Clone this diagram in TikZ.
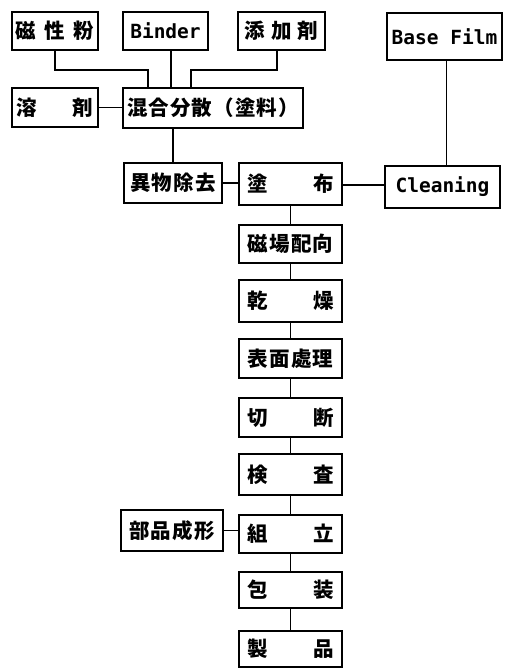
\documentclass[tikz,border=0pt]{standalone}
\usepackage{fontspec}
\newfontfamily\jp[LetterSpace=5]{Noto Sans CJK JP}
\newfontfamily\jps{Noto Sans CJK JP}
\newfontfamily\lat{DejaVu Sans Mono}
\begin{document}
\begin{tikzpicture}[x=1pt,y=-1pt,
  box/.style={draw,line width=1.3pt,inner sep=0pt,font=\fontsize{20.5pt}{20.5pt}\selectfont\bfseries},
  latin/.style={box,font=\fontsize{19.5pt}{19.5pt}\selectfont\lat\bfseries},
  col/.style={box,minimum width=103pt},
  conn/.style={line width=1.3pt}]
\useasboundingbox (0,0) rectangle (515,669);
% top row
\node[box,minimum width=86pt,minimum height=38pt] (jisei) at (55,31) {\makebox[78pt]{\jps 磁\hfill 性\hfill 粉}};
\node[latin,minimum width=85pt,minimum height=38pt] (binder) at (165.5,31) {Binder};
\node[box,minimum width=87pt,minimum height=38pt] (tenka) at (281.5,31) {\makebox[74pt]{\jps 添\hfill 加\hfill 剤}};
\node[latin,minimum width=115pt,minimum height=47pt] (base) at (444.5,36.5) {Base Film};
% second row
\node[box,minimum width=86pt,minimum height=39pt] (yozai) at (55,107.5) {\makebox[77pt]{\jps 溶\hfill 剤}};
\node[box,minimum width=180pt,minimum height=40pt] (kongou) at (213,108) {\jp 混合分散（塗料）};
% third row
\node[box,minimum width=98pt,minimum height=40pt] (ibutsu) at (173,183) {\jp 異物除去};
\node[col,minimum height=42pt] (tofu) at (290.5,184) {\makebox[86pt]{\jps 塗\hfill 布}};
\node[latin,minimum width=115pt,minimum height=42pt] (cleaning) at (442.5,187) {Cleaning};
% column
\node[col,minimum height=38pt] (jiba) at (290.5,244) {\jp 磁場配向};
\node[col,minimum height=42pt] (kanso) at (290.5,301) {\makebox[86pt]{\jps 乾\hfill 燥}};
\node[col,minimum height=39pt] (hyomen) at (290.5,358.5) {\jp 表面處理};
\node[col,minimum height=39pt] (setsudan) at (290.5,417.5) {\makebox[86pt]{\jps 切\hfill 断}};
\node[col,minimum height=41pt] (kensa) at (290.5,474.5) {\makebox[86pt]{\jps 検\hfill 査}};
\node[col,minimum height=38pt] (kumitate) at (290.5,534) {\makebox[86pt]{\jps 組\hfill 立}};
\node[box,minimum width=102pt,minimum height=41pt] (buhin) at (172,530.5) {\jp 部品成形};
\node[col,minimum height=36pt] (housou) at (290.5,590) {\makebox[86pt]{\jps 包\hfill 装}};
\node[col,minimum height=36pt] (seihin) at (290.5,649) {\makebox[86pt]{\jps 製\hfill 品}};
% connectors
\coordinate (j1) at (148,70);
\coordinate (t1) at (191,70);
\draw[conn] (jisei.south) |- (j1) -- (j1 |- kongou.north);
\draw[conn] ([xshift=5.5pt]binder.south) -- ([xshift=5.5pt]binder.south |- kongou.north);
\draw[conn] ([xshift=-4.5pt]tenka.south) |- (t1) -- (t1 |- kongou.north);
\draw[conn] (yozai.east) -- (yozai.east -| kongou.west);
\draw[conn] (ibutsu.north |- kongou.south) -- (ibutsu.north);
\draw[conn] (ibutsu.east) -- (ibutsu.east -| tofu.west);
\draw[conn] ([yshift=-1pt]tofu.east) -- ([yshift=-1pt]tofu.east -| cleaning.west);
\draw[conn] ([xshift=2pt]base.south) -- ([xshift=2pt]base.south |- cleaning.north);
\draw[conn] (tofu.south) -- (jiba.north);
\draw[conn] (jiba.south) -- (kanso.north);
\draw[conn] (kanso.south) -- (hyomen.north);
\draw[conn] (hyomen.south) -- (setsudan.north);
\draw[conn] (setsudan.south) -- (kensa.north);
\draw[conn] (kensa.south) -- (kumitate.north);
\draw[conn] (buhin.east) -- (buhin.east -| kumitate.west);
\draw[conn] (kumitate.south) -- (housou.north);
\draw[conn] (housou.south) -- (seihin.north);
\end{tikzpicture}
\end{document}
